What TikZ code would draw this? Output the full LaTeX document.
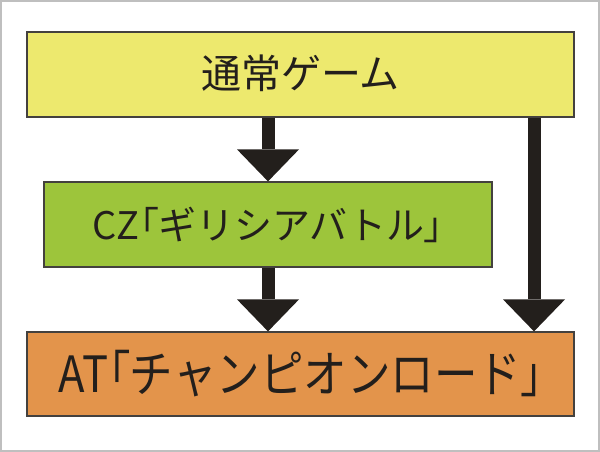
\documentclass[tikz,border=0pt]{standalone}
\usepackage{fontspec}
\usetikzlibrary{arrows.meta}
\newfontfamily\jp{Noto Sans CJK JP}
\newfontfamily\jpnarrow[FakeStretch=0.87]{Noto Sans CJK JP}
\newcommand\halfbr[1]{{\addfontfeatures{RawFeature=+palt}#1}}
\definecolor{boxyellow}{RGB}{237,233,110}
\definecolor{boxgreen}{RGB}{157,197,59}
\definecolor{boxorange}{RGB}{227,148,75}
\definecolor{ink}{RGB}{35,31,28}

\begin{document}
\begin{tikzpicture}[x=1pt,y=-1pt,
        stage/.style={draw=ink!85,line width=1.2pt,minimum height=85pt,inner sep=0pt,text=ink},
        flow/.style={draw=ink,line width=13pt,-{Triangle[width=62pt,length=32pt,line width=0pt]}}]
        \useasboundingbox (0,0) rectangle (600,452);
        \draw[black!25,line width=2pt] (1,1) rectangle (599,451);
        \node[stage,fill=boxyellow,minimum width=547pt] (normal) at (300.5,74.5) {\raisebox{5pt}{\fontsize{40}{44}\selectfont\jp 通常ゲーム}};
        \node[stage,fill=boxgreen,minimum width=448pt] (cz) at (268,224.5) {\fontsize{38}{42}\selectfont\jp CZ\halfbr{「}ギリシアバトル\halfbr{」}};
        \node[stage,fill=boxorange,minimum width=547pt,minimum height=84pt] (at) at (300.5,374) {\fontsize{50}{56}\selectfont\jpnarrow AT\halfbr{「}チャンピオンロード\halfbr{」}};
        \coordinate (side) at (534,0);
        \draw[flow] (normal.south -| cz.north) -- (cz.north);
        \draw[flow] (cz.south) -- (cz.south |- at.north);
        \draw[flow] (normal.south -| side) -- (at.north -| side);
    \end{tikzpicture}
\end{document}
